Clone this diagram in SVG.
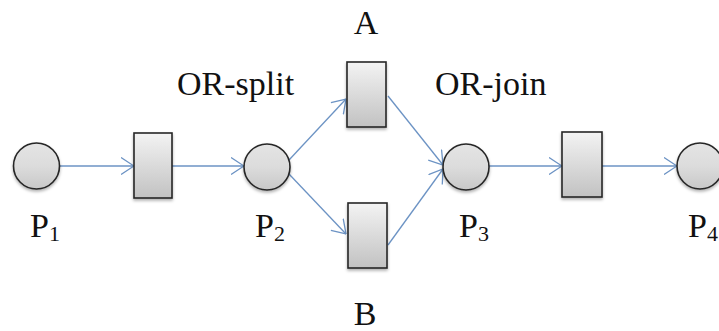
<svg xmlns="http://www.w3.org/2000/svg" width="719" height="331" viewBox="0 0 719 331">
<style>
.place{fill:url(#gc);stroke:#262626;stroke-width:1.6}
.trans{fill:url(#gr);stroke:#262626;stroke-width:1.6}
.arc{fill:none;stroke:#6c93c4;stroke-width:1.3;marker-end:url(#ah)}
.t{font-family:'Liberation Serif','DejaVu Serif',serif;font-size:34px;fill:#111}
.sub{font-size:22px}
</style>
<defs>
<linearGradient id="gr" x1="0" y1="0" x2="0" y2="1">
<stop offset="0" stop-color="#f3f3f3"/>
<stop offset="1" stop-color="#c2c2c2"/>
</linearGradient>
<linearGradient id="gc" x1="0" y1="0" x2="0" y2="1">
<stop offset="0" stop-color="#e4e4e4"/>
<stop offset="0.5" stop-color="#dcdcdc"/>
<stop offset="1" stop-color="#c8c8c8"/>
</linearGradient>
<filter id="sh" x="-30%" y="-20%" width="160%" height="150%">
<feDropShadow dx="0" dy="2" stdDeviation="1.5" flood-color="#000" flood-opacity="0.3"/>
</filter>
<marker id="ah" markerUnits="userSpaceOnUse" viewBox="0 0 14 18" markerWidth="14" markerHeight="18" refX="13.5" refY="9" orient="auto">
<path d="M0.5,0.5 L13.5,9 L0.5,17.5" fill="none" stroke="#6c93c4" stroke-width="1.3"/>
</marker>
</defs>
<g id="connectors">
<line class="arc" x1="59" y1="166" x2="134" y2="166"/>
<line class="arc" x1="172" y1="166" x2="244" y2="166"/>
<line class="arc" x1="289" y1="160" x2="346" y2="99"/>
<line class="arc" x1="289" y1="174" x2="346" y2="234"/>
<line class="arc" x1="388" y1="96" x2="443" y2="165"/>
<line class="arc" x1="388" y1="245" x2="443" y2="169"/>
<line class="arc" x1="489" y1="166" x2="562" y2="166"/>
<line class="arc" x1="602" y1="166" x2="677" y2="166"/>
</g>
<g id="P1"><circle class="place" cx="36.5" cy="166" r="23" filter="url(#sh)"/><text class="t" font-family="Liberation Serif, serif" x="30" y="237">P<tspan class="sub" dy="4">1</tspan></text></g>
<g id="T1"><rect class="trans" x="134" y="133" width="38" height="65" filter="url(#sh)"/></g>
<g id="P2"><circle class="place" cx="267" cy="167" r="23" filter="url(#sh)"/><text class="t" font-family="Liberation Serif, serif" x="255" y="237">P<tspan class="sub" dy="4">2</tspan></text></g>
<g id="A"><rect class="trans" x="347" y="62" width="39" height="65" filter="url(#sh)"/><text class="t" font-family="Liberation Serif, serif" x="366" y="34" text-anchor="middle">A</text></g>
<g id="B"><rect class="trans" x="348" y="203" width="39" height="65" filter="url(#sh)"/><text class="t" font-family="Liberation Serif, serif" x="365" y="325" text-anchor="middle">B</text></g>
<g id="P3"><circle class="place" cx="466" cy="167" r="23" filter="url(#sh)"/><text class="t" font-family="Liberation Serif, serif" x="459" y="237">P<tspan class="sub" dy="4">3</tspan></text></g>
<g id="T4"><rect class="trans" x="562" y="132" width="40" height="65" filter="url(#sh)"/></g>
<g id="P4"><circle class="place" cx="700" cy="166" r="23" filter="url(#sh)"/><text class="t" font-family="Liberation Serif, serif" x="688" y="237">P<tspan class="sub" dy="4">4</tspan></text></g>
<text class="t" font-family="Liberation Serif, serif" x="177" y="95">OR-split</text>
<text class="t" font-family="Liberation Serif, serif" x="435" y="95">OR-join</text>
</svg>
